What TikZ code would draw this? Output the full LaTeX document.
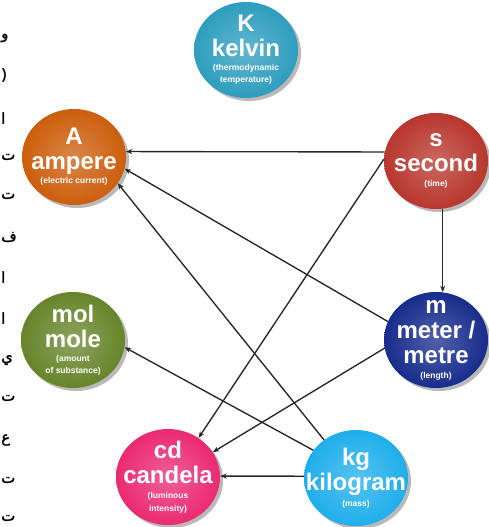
\documentclass[tikz,border=0pt]{standalone}
\usepackage{fontspec}
\setmainfont{Liberation Sans}
\newfontfamily\arabicfont[Script=Arabic,FakeBold=1.5]{DejaVu Sans}
\TeXXeTstate=1
\usetikzlibrary{positioning,arrows.meta,shapes.geometric,shadows}

\definecolor{kelvincol}{HTML}{2E9DBE}
\definecolor{amperecol}{HTML}{CC5E0C}
\definecolor{secondcol}{HTML}{B8362D}
\definecolor{molecol}{HTML}{66852A}
\definecolor{metercol}{HTML}{172C8C}
\definecolor{candelacol}{HTML}{EB2A71}
\definecolor{kilocol}{HTML}{1FAEEB}

\newcommand{\bigtxt}{\fontsize{24}{25}\selectfont}
\newcommand{\smalltxt}{\fontsize{8.5}{25}\selectfont}

\tikzset{
  sibase/.style={ellipse, minimum width=104pt, minimum height=96pt, inner sep=0pt,
    outer color=#1, inner color=#1!75!white,
    drop shadow={shadow xshift=3pt, shadow yshift=-3pt, fill=black!55, opacity=.5}},
  sitext/.style={text=white, font=\bfseries\bigtxt, align=center, inner sep=0pt},
  arr/.style={draw=black!85, line width=1.35pt, -{Stealth[length=6.5pt,width=5pt]}},
  arabtxt/.style={font=\arabicfont\fontsize{15}{15}\selectfont, anchor=west, inner sep=0pt}
}

\begin{document}
\begin{tikzpicture}[x=1pt, y=-1pt]
  \useasboundingbox (0,0) rectangle (488,527);

  % page text at the left edge
  \foreach \yy/\ch [count=\i] in {38/و, 118/ا, 157/ت, 196/ت, 237/ف, 277/ا, 318/ا, 360/ي, 398/ت, 440/ع, 480/ت, 518/ت}
    \node[arabtxt] (ar\i) at (1,\yy) {\beginR\ch\endR};
  \node[arabtxt] (arp) at (1,75) {(};

  % base units
  \node[sibase=kelvincol] (K) at (246,50) {};
  \node[sitext] (Ktxt) at (K.center) {K\\ kelvin\\[-11pt] \smalltxt (thermodynamic\\[-13pt] \smalltxt temperature)};

  \node[sibase=amperecol] (A) at (74,157) {};
  \node[sitext] (Atxt) at (A.center) {A\\ ampere\\[-11pt] \smalltxt (electric current)};

  \node[sibase=secondcol] (s) at (436,161) {};
  \node[sitext] (stxt) at (s.center) {s\\ second\\[-10pt] \smalltxt (time)};

  \node[sibase=molecol] (mol) at (73,340) {};
  \node[sitext] (moltxt) at (mol.center) {mol\\ mole\\[-11pt] \smalltxt (amount\\[-13pt] \smalltxt of substance)};

  \node[sibase=metercol] (m) at (436,340) {};
  \node[sitext] (mtxt) at (m.center) {m\\ meter /\\ metre\\[-10pt] \smalltxt (length)};

  \node[sibase=candelacol] (cd) at (168,477) {};
  \node[sitext] (cdtxt) at (cd.center) {cd\\ candela\\[-10pt] \smalltxt (luminous\\[-12pt] \smalltxt intensity)};

  \node[sibase=kilocol] (kg) at (356,478) {};
  \node[sitext] (kgtxt) at (kg.center) {kg\\ kilogram\\[-9pt] \smalltxt (mass)};

  % dependencies
  \draw[arr] (s.170) -- (A.6);
  \draw[arr] (m.159) -- (A.-13);
  \draw[arr] (kg.130) -- (A.-31);
  \draw[arr] (s.-82) -- (m.82);
  \draw[arr] (kg.147) -- (mol.-8);
  \draw[arr] (s.178) -- (cd.52);
  \draw[arr] (m.189) -- (cd.29);
  \draw[arr] (kg.178) -- (cd.1);

\end{tikzpicture}
\end{document}
